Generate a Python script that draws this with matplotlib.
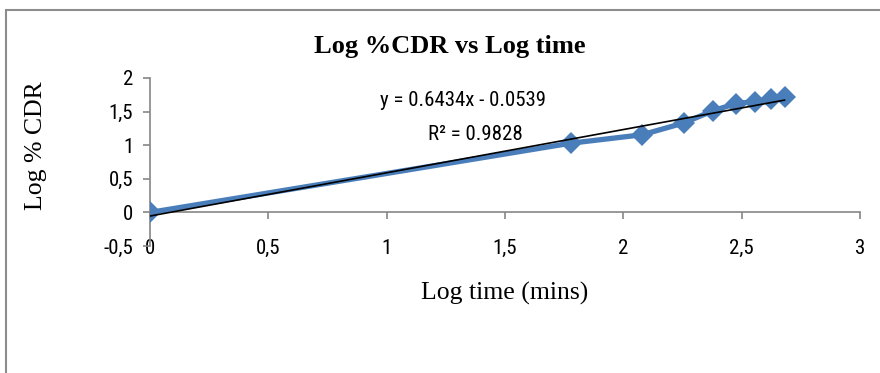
import matplotlib
matplotlib.use("Agg")
import matplotlib.pyplot as plt
from matplotlib.patches import Rectangle
from matplotlib.ticker import FuncFormatter
from matplotlib import font_manager
import numpy as np

log_time = [0.0, 1.778, 2.079, 2.255, 2.380, 2.477, 2.556, 2.623, 2.681]
log_cdr = [0.0, 1.03, 1.155, 1.33, 1.515, 1.62, 1.65, 1.69, 1.714]
trend_slope = 0.6434
trend_intercept = -0.0539
eq_text = "y = 0.6434x - 0.0539"
r2_text = "R² = 0.9828"
x_ticks = [0, 0.5, 1, 1.5, 2, 2.5, 3]
y_ticks = [-0.5, 0, 0.5, 1, 1.5, 2]


def pick_font(cands):
    for c in cands:
        try:
            font_manager.findfont(c, fallback_to_default=False)
            return c
        except Exception:
            pass
    return "DejaVu Sans"


SANS = pick_font(["Roboto Condensed", "Lato"])
SANS_SIZE = 15 if SANS == "Roboto Condensed" else 13.5

W, H = 880, 373
fig = plt.figure(figsize=(W / 100, H / 100), dpi=100)
ax = fig.add_axes([150 / W, 127 / H, 710 / W, 168 / H])

axis_color = "#868686"
blue = "#4A7EBB"

ax.plot(log_time, log_cdr, color=blue, lw=3.8, marker="D", ms=11.5,
        markeredgewidth=0, zorder=3, solid_joinstyle="round")
xt = np.array([min(log_time), max(log_time)])
ax.plot(xt, trend_slope * xt + trend_intercept, color="black", lw=1.2, zorder=4)

ax.set_xlim(0, 3)
ax.set_ylim(-0.5, 2)
ax.set_xticks(x_ticks)
ax.set_yticks(y_ticks)
fmt = FuncFormatter(lambda v, p: ("%g" % v).replace(".", ","))
ax.xaxis.set_major_formatter(fmt)
ax.yaxis.set_major_formatter(fmt)

for s in ["top", "right"]:
    ax.spines[s].set_visible(False)
ax.spines["bottom"].set_position(("data", 0))
for s in ["left", "bottom"]:
    ax.spines[s].set_color(axis_color)
    ax.spines[s].set_linewidth(1.2)

ax.tick_params(axis="both", colors=axis_color, length=5, width=1.2,
               labelcolor="black", labelsize=SANS_SIZE, direction="out")
ax.tick_params(axis="x", pad=14)
ax.tick_params(axis="y", pad=7)
for lbl in ax.get_xticklabels() + ax.get_yticklabels():
    lbl.set_fontfamily(SANS)

fig.text(450 / W, 1 - 46 / H, "Log %CDR vs Log time", fontfamily="Liberation Serif",
         fontweight="bold", fontsize=19, ha="center", va="center")
fig.text(505 / W, 1 - 293 / H, "Log time (mins)", fontfamily="Liberation Serif",
         fontsize=18.5, ha="center", va="center")
fig.text(36 / W, 1 - 146 / H, "Log % CDR", fontfamily="Liberation Serif",
         fontsize=18.5, ha="center", va="center", rotation=90)

fig.text(380 / W, 1 - 101 / H, eq_text, fontfamily=SANS, fontsize=SANS_SIZE,
         ha="left", va="center")
fig.text(428 / W, 1 - 134 / H, r2_text, fontfamily=SANS, fontsize=SANS_SIZE,
         ha="left", va="center")

fig.patches.append(Rectangle((6 / W, -0.1), 1.2, (H - 10) / H + 0.1,
                             transform=fig.transFigure, fill=False,
                             edgecolor="#8C8C8C", lw=1.5))

fig.savefig("out.png", dpi=100, facecolor="white")
